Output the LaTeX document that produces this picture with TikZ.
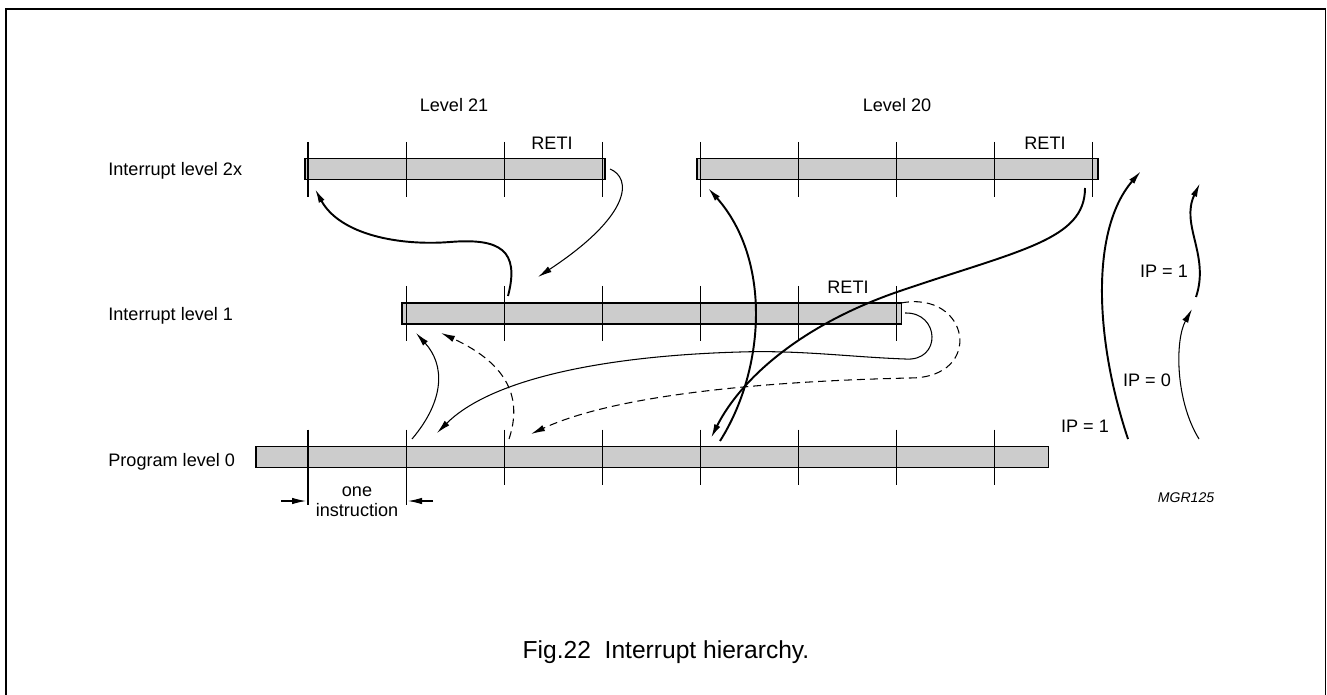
\documentclass[tikz,border=0pt]{standalone}
\usepackage{fontspec}
\setmainfont{Liberation Sans}
\usetikzlibrary{positioning, arrows.meta}

\begin{document}
\begin{tikzpicture}[
        x=0.02cm, y=-0.02cm,
        bar/.style={draw, fill=black!20, line width=0.9pt, minimum height=0.42cm, inner sep=0pt, anchor=west},
        tickln/.style={line width=0.6pt},
        heavy/.style={->, line width=1.1pt},
        light/.style={->, line width=0.6pt},
        dashln/.style={light, dash pattern=on 1.6mm off 1mm},
        lbl/.style={font=\fontsize{10.3}{12}\selectfont, inner sep=0pt},
        >={Latex[length=2.8mm, width=1.3mm]},
    ]
    \useasboundingbox (0,0) rectangle (1327,695);
    \draw[line width=1pt] (6,695) -- (6,9) -- (1325.5,9) -- (1325.5,695);

    % bars
    \node[bar, minimum width=6cm]     (lvl21) at (304,169)   {};
    \node[bar, minimum width=8.03cm]  (lvl20) at (696,169)   {};
    \node[bar, minimum width=10cm]    (lvl1)  at (401,313.5) {};
    \node[bar, minimum width=15.86cm] (lvl0)  at (255,457)   {};

    % instruction ticks
    \foreach \k in {0,...,8} \draw[tickln] ({308+98.1*\k},142) -- ++(0,55);
    \foreach \k in {1,...,6} \draw[tickln] ({308+98.1*\k},286) -- ++(0,55);
    \foreach \k/\e in {0/505,1/505,2/485,3/485,4/485,5/485,6/485,7/485}
        \draw[tickln] ({308+98.1*\k},429.5) -- ({308+98.1*\k},\e);

    % labels
    \node[lbl, anchor=base west] (txt2x) at (108,176) {Interrupt level 2x};
    \node[lbl, anchor=base west] (txt1)  at (108,321) {Interrupt level 1};
    \node[lbl, anchor=base west] (txt0)  at (108,466) {Program level 0};
    \node[lbl] (lv21)  at (454,105) {Level 21};
    \node[lbl] (lv20)  at (897,105) {Level 20};
    \node[lbl] (reti21) at (552,143) {RETI};
    \node[lbl] (reti20) at (1045,143) {RETI};
    \node[lbl] (reti1)  at (848,287) {RETI};
    \node[lbl] (ipa) at (1164,271) {IP = 1};
    \node[lbl] (ipb) at (1147,380) {IP = 0};
    \node[lbl] (ipc) at (1085,426) {IP = 1};
    \node[lbl, align=center, font=\fontsize{10.3}{11.5}\selectfont] (oneins) at (357,502) {one\\instruction};
    \node[inner sep=0pt, font=\fontsize{8}{10}\selectfont\itshape] (mgr) at (1186,498) {MGR125};
    \node[inner sep=0pt, font=\fontsize{14}{16}\selectfont] (title) at (666,652) {Fig.22\ \ Interrupt hierarchy.};

    % end points
    \coordinate (a0) at (508,296);    \coordinate (a1) at (315,189);
    \coordinate (b0) at (610,169);    \coordinate (b1) at (538,277);
    \coordinate (c0) at (720,441);    \coordinate (c1) at (708,188);
    \coordinate (d0) at (1085,188);   \coordinate (d1) at (711,438);
    \coordinate (e0) at (412,439);    \coordinate (e1) at (416,333);
    \coordinate (f0) at (509,439);    \coordinate (f1) at (441,333);
    \coordinate (g0) at (905,313);    \coordinate (g1) at (437,433);
    \coordinate (h0) at (901,303);    \coordinate (h1) at (531,434);
    \coordinate (p0) at (1128,439);   \coordinate (p1) at (1141,171);
    \coordinate (q0) at (1199,439);   \coordinate (q1) at (1192,309);
    \coordinate (r0) at (1196,297);   \coordinate (r1) at (1200,183);
    \coordinate (m0) at (281,501);    \coordinate (m1) at (306,501);
    \coordinate (n0) at (433,501);    \coordinate (n1) at (408,501);

    % flow of control
    \draw[heavy] (a0) .. controls (520,250) and (500,238) .. (450,242)
                      .. controls (400,246) and (340,235) .. (a1);
    \draw[light] (b0) .. controls (632,178) and (632,215) .. (b1);
    \draw[heavy] (c0) .. controls (765,370) and (772,260) .. (c1);
    \draw[heavy] (d0) .. controls (1085,240) and (1020,250) .. (900,291)
                      .. controls (800,325) and (740,380) .. (d1);
    \draw[light] (e0) .. controls (445,400) and (445,365) .. (e1);
    \draw[dashln] (f0) .. controls (522,400) and (510,365) .. (f1);
    \draw[light] (g0) .. controls (940,312) and (942,362) .. (905,359)
                      .. controls (850,357) and (800,350) .. (740,352)
                      .. controls (600,356) and (490,380) .. (g1);
    \draw[dashln] (h0) .. controls (970,290) and (985,378) .. (910,378)
                       .. controls (820,380) and (630,388) .. (h1);
    \draw[heavy] (p0) .. controls (1095,340) and (1090,230) .. (p1);
    \draw[light] (q0) .. controls (1175,400) and (1175,340) .. (q1);
    \draw[heavy] (r0) .. controls (1210,255) and (1180,225) .. (r1);

    % one instruction
    \draw[light] (m0) -- (m1);
    \draw[light] (n0) -- (n1);
\end{tikzpicture}
\end{document}
